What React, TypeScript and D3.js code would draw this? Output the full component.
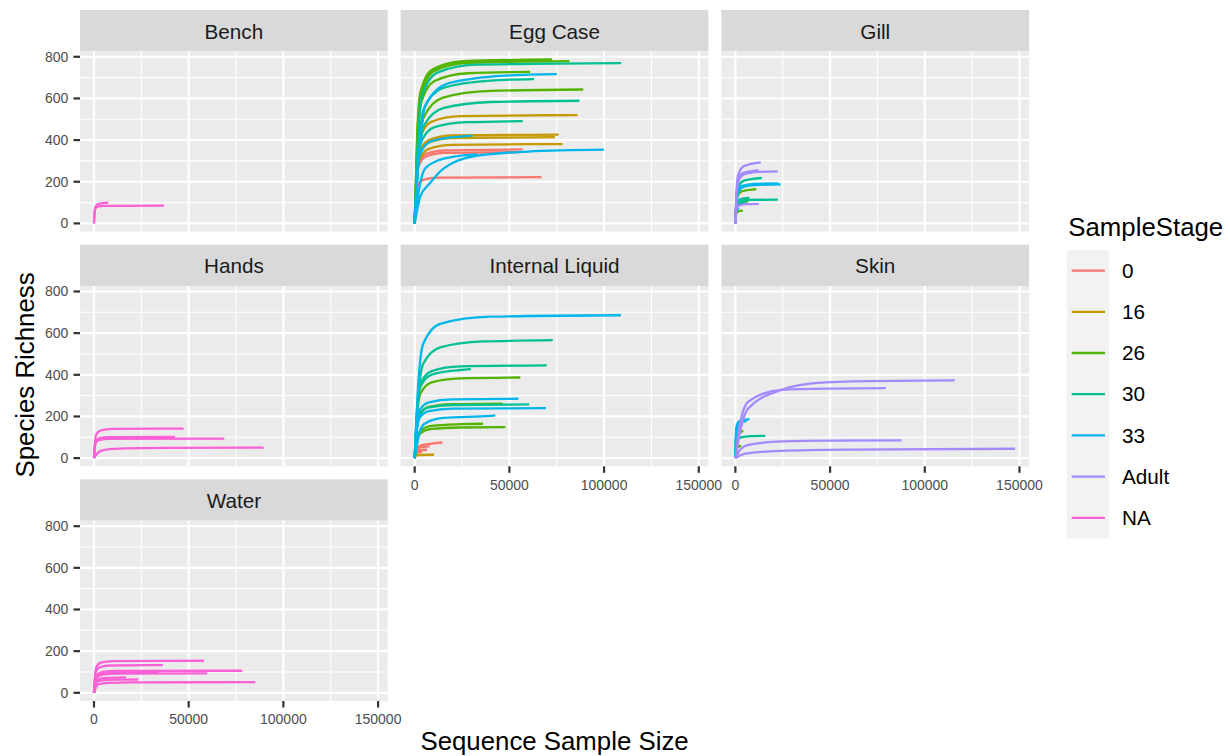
import React from "react";
import * as d3 from "d3";

type Curve = { stage: string; pts: [number, number][] };

// legend order + ggplot default hue palette
const stages = ["0", "16", "26", "30", "33", "Adult", "NA"];
const stageColors = ["#F8766D", "#C49A00", "#53B400", "#00C094", "#00B6EB", "#A58AFF", "#FB61D7"];

const facetNames = ["Bench", "Egg Case", "Gill", "Hands", "Internal Liquid", "Skin", "Water"];

const xTicks = [0, 50000, 100000, 150000];
const xMinor = [25000, 75000, 125000];
const yTicks = [0, 200, 400, 600, 800];
const yMinor = [100, 300, 500, 700];

// rarefaction curves (sample size, richness)
const benchCurves: Curve[] = [
  { stage: "NA", pts: [[0, 0], [250, 45], [600, 68], [1800, 80], [5000, 84], [37000, 85]] },
  { stage: "NA", pts: [[0, 0], [300, 50], [800, 80], [2400, 94], [7500, 100]] },
];

const eggCaseCurves: Curve[] = [
  { stage: "0", pts: [[0, 0], [600, 111], [1500, 178], [4500, 209], [12000, 220], [67000, 222]] },
  { stage: "0", pts: [[0, 0], [800, 177], [2000, 284], [6000, 334], [16000, 351], [57000, 355]] },
  { stage: "0", pts: [[0, 0], [800, 171], [2000, 274], [6000, 321], [16000, 339], [55000, 342]] },
  { stage: "16", pts: [[0, 0], [1200, 260], [3000, 416], [9000, 489], [24000, 515], [86000, 520]] },
  { stage: "16", pts: [[0, 0], [1000, 213], [2500, 341], [7500, 400], [20000, 422], [76000, 426]] },
  { stage: "16", pts: [[0, 0], [1000, 207], [2500, 331], [7500, 389], [20000, 410], [74000, 414]] },
  { stage: "16", pts: [[0, 0], [1000, 190], [2500, 305], [7500, 358], [20000, 377], [78000, 381]] },
  { stage: "26", pts: [[0, 0], [1300, 394], [3300, 630], [10000, 740], [26000, 779], [72500, 787]] },
  { stage: "26", pts: [[0, 0], [1200, 392], [3000, 627], [9000, 737], [24000, 776], [72000, 784]] },
  { stage: "26", pts: [[0, 0], [1400, 390], [3500, 623], [10500, 732], [28000, 771], [81700, 779]] },
  { stage: "26", pts: [[0, 0], [1400, 364], [3500, 582], [10500, 684], [28000, 721], [61000, 728]] },
  { stage: "26", pts: [[0, 0], [2000, 321], [5000, 514], [15000, 604], [40000, 636], [89000, 643]] },
  { stage: "30", pts: [[0, 0], [1600, 385], [4000, 616], [12000, 724], [32000, 762], [109000, 770]] },
  { stage: "30", pts: [[0, 0], [2000, 346], [5000, 554], [15000, 651], [40000, 686], [63000, 693]] },
  { stage: "30", pts: [[0, 0], [2000, 294], [5000, 471], [15000, 554], [40000, 583], [87000, 589]] },
  { stage: "30", pts: [[0, 0], [1400, 245], [3500, 393], [10500, 462], [28000, 486], [57000, 491]] },
  { stage: "33", pts: [[0, 0], [2400, 358], [6000, 574], [18000, 674], [48000, 710], [75000, 717]] },
  { stage: "33", pts: [[0, 0], [1200, 210], [3000, 337], [9000, 396], [24000, 417], [30600, 421]] },
  { stage: "33", pts: [[0, 0], [2400, 168], [6000, 269], [18000, 316], [33000, 331]] },
  { stage: "33", pts: [[0, 0], [3000, 130], [7800, 190], [15000, 262], [33000, 325], [60000, 345], [100000, 354]] },
];

const gillCurves: Curve[] = [
  { stage: "26", pts: [[0, 0], [500, 82], [1200, 132], [3600, 155], [11100, 165]] },
  { stage: "26", pts: [[0, 0], [300, 53], [800, 85], [2400, 100], [6900, 106]] },
  { stage: "26", pts: [[0, 0], [200, 30], [500, 49], [1500, 57], [4000, 61]] },
  { stage: "30", pts: [[0, 0], [600, 109], [1500, 174], [4500, 205], [13900, 218]] },
  { stage: "30", pts: [[0, 0], [400, 57], [1000, 91], [3000, 107], [8000, 113], [22400, 114]] },
  { stage: "30", pts: [[0, 0], [300, 61], [800, 98], [2400, 115], [7400, 122]] },
  { stage: "30", pts: [[0, 0], [300, 55], [800, 90], [2400, 105], [6000, 110]] },
  { stage: "30", pts: [[0, 0], [300, 50], [800, 82], [2400, 95], [5000, 100]] },
  { stage: "33", pts: [[0, 0], [600, 94], [1500, 150], [4500, 176], [12000, 185], [23900, 187]] },
  { stage: "33", pts: [[0, 0], [500, 96], [1200, 154], [3600, 180], [9600, 190], [22700, 192]] },
  { stage: "33", pts: [[0, 0], [160, 36], [400, 58], [1200, 68], [1900, 72]] },
  { stage: "Adult", pts: [[0, 0], [600, 146], [1500, 234], [4500, 275], [13400, 293]] },
  { stage: "Adult", pts: [[0, 0], [600, 125], [1500, 200], [4500, 235], [12000, 247], [22400, 250]] },
  { stage: "Adult", pts: [[0, 0], [500, 128], [1200, 205], [3600, 240], [12100, 256]] },
  { stage: "Adult", pts: [[0, 0], [300, 47], [800, 75], [2400, 88], [6400, 93], [12300, 94]] },
];

const handsCurves: Curve[] = [
  { stage: "NA", pts: [[0, 0], [500, 71], [1200, 114], [3600, 133], [9600, 140], [47300, 142]] },
  { stage: "NA", pts: [[0, 0], [400, 51], [1000, 82], [3000, 96], [8000, 101], [42800, 102]] },
  { stage: "NA", pts: [[0, 0], [400, 47], [1000, 75], [3000, 88], [8000, 93], [68800, 94]] },
  { stage: "NA", pts: [[0, 0], [1500, 20], [4000, 36], [10000, 44], [25000, 48], [89600, 50]] },
];

const internalLiquidCurves: Curve[] = [
  { stage: "0", pts: [[0, 0], [1200, 37], [3000, 60], [9000, 70], [14600, 75]] },
  { stage: "0", pts: [[0, 0], [600, 29], [1500, 46], [4500, 54], [7900, 58]] },
  { stage: "0", pts: [[0, 0], [400, 20], [1000, 32], [3000, 38], [6500, 40]] },
  { stage: "0", pts: [[0, 0], [300, 15], [700, 24], [2000, 28], [4000, 30]] },
  { stage: "16", pts: [[0, 0], [300, 8], [800, 13], [2400, 15], [10200, 16]] },
  { stage: "26", pts: [[0, 0], [1200, 193], [3000, 310], [9000, 364], [24000, 383], [55800, 387]] },
  { stage: "26", pts: [[0, 0], [1000, 131], [2500, 210], [7500, 246], [20000, 259], [46600, 262]] },
  { stage: "26", pts: [[0, 0], [1200, 82], [3000, 132], [9000, 155], [24000, 163], [36100, 165]] },
  { stage: "26", pts: [[0, 0], [1200, 74], [3000, 119], [9000, 140], [24000, 147], [47900, 149]] },
  { stage: "30", pts: [[0, 0], [1800, 283], [4500, 453], [13500, 532], [36000, 560], [72900, 566]] },
  { stage: "30", pts: [[0, 0], [1200, 222], [3000, 356], [9000, 418], [24000, 440], [69700, 445]] },
  { stage: "30", pts: [[0, 0], [1200, 213], [3000, 342], [9000, 401], [24000, 423], [29700, 427]] },
  { stage: "30", pts: [[0, 0], [1000, 129], [2500, 206], [7500, 243], [20000, 255], [60400, 258]] },
  { stage: "33", pts: [[0, 0], [1800, 343], [4500, 549], [13500, 645], [40000, 679], [108800, 686]] },
  { stage: "33", pts: [[0, 0], [1000, 142], [2500, 228], [7500, 268], [20000, 282], [54700, 285]] },
  { stage: "33", pts: [[0, 0], [1000, 120], [2500, 192], [7500, 226], [20000, 238], [69300, 240]] },
  { stage: "33", pts: [[0, 0], [2000, 102], [5000, 164], [15000, 193], [40000, 203], [42600, 205]] },
];

const skinCurves: Curve[] = [
  { stage: "26", pts: [[0, 0], [300, 65], [800, 105], [2400, 123], [4200, 131]] },
  { stage: "26", pts: [[0, 0], [300, 30], [800, 48], [2000, 56], [3000, 60]] },
  { stage: "30", pts: [[0, 0], [400, 53], [1000, 86], [3000, 100], [8000, 106], [15800, 107]] },
  { stage: "33", pts: [[0, 0], [250, 94], [600, 150], [1800, 175], [7400, 187]] },
  { stage: "33", pts: [[0, 0], [250, 90], [600, 143], [1800, 168], [6000, 179]] },
  { stage: "33", pts: [[0, 0], [250, 80], [600, 128], [1800, 150], [3500, 160]] },
  { stage: "Adult", pts: [[0, 0], [3000, 150], [6900, 240], [24500, 328], [42000, 360], [70000, 370], [115800, 373]] },
  { stage: "Adult", pts: [[0, 0], [2500, 170], [6900, 272], [24500, 328], [50000, 334], [79400, 336]] },
  { stage: "Adult", pts: [[0, 0], [2500, 40], [6900, 64], [24500, 80], [50000, 84], [87800, 85]] },
  { stage: "Adult", pts: [[0, 0], [3000, 15], [6900, 24], [24500, 35], [60000, 41], [147700, 45]] },
];

const waterCurves: Curve[] = [
  { stage: "NA", pts: [[0, 0], [500, 77], [1200, 123], [3600, 145], [9600, 152], [58100, 154]] },
  { stage: "NA", pts: [[0, 0], [500, 66], [1200, 106], [3600, 125], [9600, 131], [36400, 133]] },
  { stage: "NA", pts: [[0, 0], [600, 53], [1500, 85], [4500, 100], [12000, 105], [78300, 106]] },
  { stage: "NA", pts: [[0, 0], [600, 49], [1500, 78], [4500, 92], [12000, 97], [34000, 98]] },
  { stage: "NA", pts: [[0, 0], [600, 46], [1500, 74], [4500, 87], [12000, 92], [59800, 93]] },
  { stage: "NA", pts: [[0, 0], [600, 37], [1500, 59], [4500, 70], [12000, 73], [16900, 74]] },
  { stage: "NA", pts: [[0, 0], [600, 32], [1500, 51], [4500, 60], [12000, 63], [23400, 64]] },
  { stage: "NA", pts: [[0, 0], [1000, 25], [2500, 41], [7500, 48], [20000, 50], [85200, 51]] },
];

const facetCurves = [benchCurves, eggCaseCurves, gillCurves, handsCurves, internalLiquidCurves, skinCurves, waterCurves];

// layout (px)
const panelLeft0 = 80;
const colStep = 320.7;
const panelW = 307.7;
const rowTop0 = 10;
const rowStep = 234.7;
const stripH = 41.3;
const panelH = 180.3;
const nCol = 3;

const font = "'Liberation Sans', Arial, Helvetica, sans-serif";

const allPts = facetCurves.flat().flatMap((c) => c.pts);
const xExt = d3.extent(allPts, (p) => p[0]) as [number, number];
const yExt = d3.extent(allPts, (p) => p[1]) as [number, number];
const xPad = (xExt[1] - xExt[0]) * 0.05;
const yPad = (yExt[1] - yExt[0]) * 0.05;

const xScale = d3.scaleLinear().domain([xExt[0] - xPad, xExt[1] + xPad]).range([0, panelW]);
const yScale = d3.scaleLinear().domain([yExt[0] - yPad, yExt[1] + yPad]).range([panelH, 0]);
const color = d3.scaleOrdinal<string, string>().domain(stages).range(stageColors);

const line = d3
  .line<[number, number]>()
  .x((d) => xScale(d[0]))
  .y((d) => yScale(d[1]))
  .curve(d3.curveMonotoneX);

function Panel({ index }: { index: number }) {
  const col = index % nCol;
  const row = Math.floor(index / nCol);
  const left = panelLeft0 + col * colStep;
  const top = rowTop0 + row * rowStep;
  const showY = col === 0;
  // x axis only on the bottom panel of each column
  const showX = index + nCol >= facetNames.length;

  return (
    <g transform={`translate(${left}, ${top})`}>
      <rect x={0} y={0} width={panelW} height={stripH} fill="#D9D9D9" />
      <text
        x={panelW / 2}
        y={28.7}
        textAnchor="middle"
        style={{ fontSize: 20.7, fill: "#1A1A1A", fontFamily: font }}
      >
        {facetNames[index]}
      </text>
      <g transform={`translate(0, ${stripH})`}>
        <rect x={0} y={0} width={panelW} height={panelH} fill="#EBEBEB" />
        {yMinor.map((t) => (
          <line key={"ym" + t} x1={0} x2={panelW} y1={yScale(t)} y2={yScale(t)} stroke="#fff" strokeWidth={1.1} />
        ))}
        {xMinor.map((t) => (
          <line key={"xm" + t} x1={xScale(t)} x2={xScale(t)} y1={0} y2={panelH} stroke="#fff" strokeWidth={1.1} />
        ))}
        {yTicks.map((t) => (
          <line key={"y" + t} x1={0} x2={panelW} y1={yScale(t)} y2={yScale(t)} stroke="#fff" strokeWidth={2.2} />
        ))}
        {xTicks.map((t) => (
          <line key={"x" + t} x1={xScale(t)} x2={xScale(t)} y1={0} y2={panelH} stroke="#fff" strokeWidth={2.2} />
        ))}
        {facetCurves[index].map((c, i) => (
          <path
            key={i}
            d={line(c.pts) ?? ""}
            fill="none"
            stroke={color(c.stage)}
            strokeWidth={2.3}
            strokeLinejoin="round"
          />
        ))}
        {showY &&
          yTicks.map((t) => (
            <g key={"yt" + t}>
              <line x1={-6.5} x2={0} y1={yScale(t)} y2={yScale(t)} stroke="#333333" strokeWidth={2.2} />
              <text
                x={-11.7}
                y={yScale(t)}
                dy="0.35em"
                textAnchor="end"
                style={{ fontSize: 14, fill: "#4D4D4D", fontFamily: font }}
              >
                {t}
              </text>
            </g>
          ))}
        {showX &&
          xTicks.map((t) => (
            <g key={"xt" + t}>
              <line x1={xScale(t)} x2={xScale(t)} y1={panelH} y2={panelH + 6.5} stroke="#333333" strokeWidth={2.2} />
              <text
                x={xScale(t)}
                y={panelH + 23.5}
                textAnchor="middle"
                style={{ fontSize: 14, fill: "#4D4D4D", fontFamily: font }}
              >
                {t}
              </text>
            </g>
          ))}
      </g>
    </g>
  );
}

export default function App() {
  const legendX = 1066.7;
  const legendY = 250;
  const keyH = 41.2;
  const keyW = 42.3;
  const gridRight = panelLeft0 + (nCol - 1) * colStep + panelW;

  return (
    <svg
      width={1230}
      height={756}
      viewBox="0 0 1230 756"
      style={{ position: "absolute", left: 0, top: 0, background: "#fff" }}
    >
      <rect width={1230} height={756} fill="#fff" />
      {facetNames.map((name, i) => (
        <Panel key={name} index={i} />
      ))}

      <text
        x={(panelLeft0 + gridRight) / 2}
        y={750}
        textAnchor="middle"
        style={{ fontSize: 25.8, fill: "#000", fontFamily: font }}
      >
        Sequence Sample Size
      </text>
      <text
        transform="translate(34, 375) rotate(-90)"
        textAnchor="middle"
        style={{ fontSize: 25.8, fill: "#000", fontFamily: font }}
      >
        Species Richness
      </text>

      <g>
        <text x={1068.3} y={235.7} style={{ fontSize: 25.8, fill: "#000", fontFamily: font }}>
          SampleStage
        </text>
        <rect x={legendX} y={legendY} width={keyW} height={keyH * stages.length} fill="#F2F2F2" />
        {stages.map((s, i) => {
          const cy = legendY + keyH * i + keyH / 2;
          return (
            <g key={s}>
              <line x1={legendX + 5} x2={legendX + 38.3} y1={cy} y2={cy} stroke={color(s)} strokeWidth={2.3} />
              <text
                x={1122}
                y={cy}
                dy="0.35em"
                style={{ fontSize: 20.7, fill: "#000", fontFamily: font }}
              >
                {s}
              </text>
            </g>
          );
        })}
      </g>
    </svg>
  );
}
